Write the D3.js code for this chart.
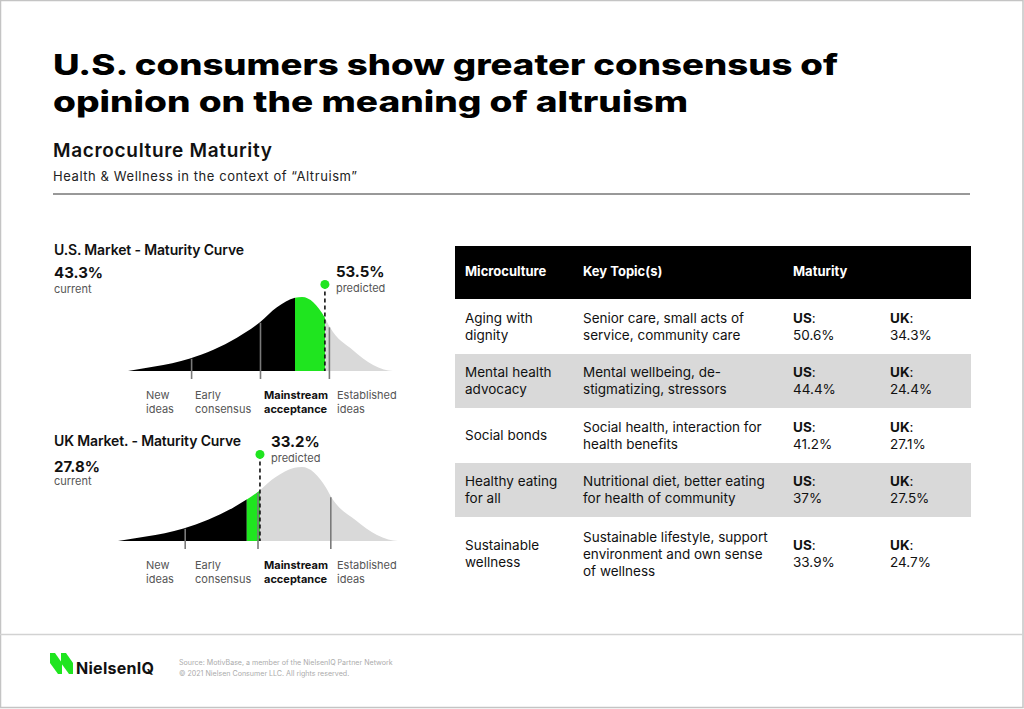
<!DOCTYPE html>
<html>
<head>
<meta charset="utf-8">
<script src="https://cdn.jsdelivr.net/npm/d3@7"></script>
<style>
  html, body { margin: 0; padding: 0; background: #fff; }
  svg { display: block; font-family: Inter, "Noto Sans", sans-serif; }
</style>
</head>
<body>
<svg id="chart" width="1024" height="709"></svg>
<script>
// ---- data ----
var titleLines = ['U.S. consumers show greater consensus of', 'opinion on the meaning of altruism'];
var subTitle = 'Macroculture Maturity';
var subText = 'Health & Wellness in the context of \u201cAltruism\u201d';

// maturity curve shape (position along maturity axis, relative height)
var curveX = [0, 0.10, 0.234, 0.411, 0.498, 0.562, 0.630, 0.657, 0.743, 0.762, 0.849, 0.925, 0.965, 1.0];
var curveH = [0, 0.06, 0.17, 0.45, 0.66, 0.86, 0.99, 1.0, 0.72, 0.59, 0.28, 0.08, 0.02, 0];

var stageBreaks = [0.24, 0.5, 0.76];
var stageNames = [['New', 'ideas'], ['Early', 'consensus'], ['Mainstream', 'acceptance'], ['Established', 'ideas']];

var marketTitles = ['U.S. Market - Maturity Curve', 'UK Market. - Maturity Curve'];
var currentPct = ['43.3%', '27.8%'];
var predictedPct = ['53.5%', '33.2%'];
var currentPos = [0.63, 0.46];
var predictedPos = [0.743, 0.507];

var tableHead = ['Microculture', 'Key Topic(s)', 'Maturity'];
var microcultures = [['Aging with', 'dignity'], ['Mental health', 'advocacy'], ['Social bonds'],
    ['Healthy eating', 'for all'], ['Sustainable', 'wellness']];
var keyTopics = [['Senior care, small acts of', 'service, community care'],
    ['Mental wellbeing, de-', 'stigmatizing, stressors'],
    ['Social health, interaction for', 'health benefits'],
    ['Nutritional diet, better eating', 'for health of community'],
    ['Sustainable lifestyle, support', 'environment and own sense', 'of wellness']];
var usMaturity = ['50.6%', '44.4%', '41.2%', '37%', '33.9%'];
var ukMaturity = ['34.3%', '24.4%', '27.1%', '27.5%', '24.7%'];

var footSource = ['Source: MotivBase, a member of the NielsenIQ Partner Network',
    '\u00a9 2021 Nielsen Consumer LLC. All rights reserved.'];

// ---- page ----
var svg = d3.select('#chart');
var GREEN = '#1fe51f';

// spread a text's letters so it covers the width it has in the picture
function fitWidth(t, w){
    var s = t.text();
    var cur = t.node().getComputedTextLength();
    t.attr('letter-spacing', (w - cur) / (s.length - 1));
    return t;
}

svg.append('rect').attr('x', 0.5).attr('y', 0.5).attr('width', 1022.5).attr('height', 707)
    .attr('fill', '#fff').attr('stroke', '#c4c4c4').attr('stroke-width', 1.5);

// title, wide face: stretch glyphs to the picture's widths
var titleW = [785, 635];
titleLines.forEach(function(t, i){
    svg.append('text')
        .attr('x', 53).attr('y', 75 + i * 37)
        .attr('font-size', 28.5).attr('font-weight', 800).attr('fill', '#000')
        .attr('textLength', titleW[i]).attr('lengthAdjust', 'spacingAndGlyphs')
        .text(t);
});

fitWidth(svg.append('text').attr('x', 53).attr('y', 157).attr('font-size', 19).attr('font-weight', 600)
    .attr('fill', '#111').text(subTitle), 219);
fitWidth(svg.append('text').attr('x', 53).attr('y', 181).attr('font-size', 13)
    .attr('fill', '#222').text(subText), 304);
svg.append('line').attr('x1', 53).attr('x2', 970).attr('y1', 194).attr('y2', 194)
    .attr('stroke', '#333').attr('stroke-width', 1);

// ---- maturity curves ----
var panels = [
    {x0: 128, x1: 393, base: 371, h: 74, titleY: 255, curY: 278, curLblY: 293, lblY: 399, titleW: 190},
    {x0: 118, x1: 398, base: 541, h: 74, titleY: 446, curY: 472, curLblY: 485, lblY: 569, titleW: 187}
];
var stageLabelX = [146, 195, 264, 337];
var curvePts = curveX.map(function(d, i){ return {x: d, h: curveH[i]}; });
var heightAt = d3.scaleLinear().domain(curveX).range(curveH);

panels.forEach(function(p, m){
    var x = d3.scaleLinear().domain([0, 1]).range([p.x0, p.x1]);
    var y = d3.scaleLinear().domain([0, 1]).range([p.base, p.base - p.h]);
    var g = svg.append('g');

    var area = d3.area().curve(d3.curveMonotoneX)
        .x(function(d){ return x(d.x); })
        .y0(p.base)
        .y1(function(d){ return y(d.h); });

    var segs = [
        {a: 0, b: currentPos[m], fill: '#000'},
        {a: currentPos[m], b: predictedPos[m], fill: GREEN},
        {a: predictedPos[m], b: 1, fill: '#d9d9d9'}
    ];
    segs.forEach(function(s, k){
        var id = 'clip' + m + '_' + k;
        svg.append('clipPath').attr('id', id).append('rect')
            .attr('x', x(s.a)).attr('y', p.base - p.h - 10)
            .attr('width', x(s.b) - x(s.a)).attr('height', p.h + 11);
        g.append('path').datum(curvePts)
            .attr('d', area).attr('fill', s.fill)
            .attr('clip-path', 'url(#' + id + ')');
    });

    // stage dividers
    g.selectAll('.div').data(stageBreaks).enter().append('line')
        .attr('x1', function(d){ return x(d); }).attr('x2', function(d){ return x(d); })
        .attr('y1', function(d){ return y(heightAt(d)) + 1; })
        .attr('y2', p.base + 8)
        .attr('stroke', '#7a7a7a').attr('stroke-width', 1.6);

    // predicted marker
    var px = x(predictedPos[m]);
    g.append('line').attr('x1', px).attr('x2', px)
        .attr('y1', y(1.17)).attr('y2', p.base)
        .attr('stroke', '#111').attr('stroke-width', 1.6).attr('stroke-dasharray', '4,3');
    g.append('circle').attr('cx', px).attr('cy', y(1.17)).attr('r', 4.5).attr('fill', GREEN);

    g.append('text').attr('x', px + 11).attr('y', y(1.17) - 7)
        .attr('font-size', 15).attr('font-weight', 700).attr('fill', '#111').text(predictedPct[m]);
    g.append('text').attr('x', px + 11).attr('y', y(1.17) + 8)
        .attr('font-size', 11).attr('fill', '#555').text('predicted');

    // title & current
    fitWidth(g.append('text').attr('x', 54).attr('y', p.titleY)
        .attr('font-size', 14).attr('font-weight', 600).attr('fill', '#111')
        .text(marketTitles[m]), p.titleW);
    g.append('text').attr('x', 54).attr('y', p.curY)
        .attr('font-size', 15).attr('font-weight', 700).attr('fill', '#111').text(currentPct[m]);
    g.append('text').attr('x', 54).attr('y', p.curLblY)
        .attr('font-size', 11).attr('fill', '#555').text('current');

    // stage labels
    stageNames.forEach(function(lines, k){
        var t = g.append('text').attr('x', stageLabelX[k]).attr('y', p.lblY)
            .attr('font-size', 11)
            .attr('font-weight', k == 2 ? 700 : 400)
            .attr('fill', k == 2 ? '#111' : '#555');
        lines.forEach(function(l, j){
            t.append('tspan').attr('x', stageLabelX[k]).attr('dy', j == 0 ? 0 : 13.5).text(l);
        });
    });
});

// ---- table ----
var colX = [465, 583, 793, 890];
var rowTops = [299, 354, 408, 463, 517, 591];
var tg = svg.append('g');
tg.append('rect').attr('x', 455).attr('y', 246).attr('width', 516).attr('height', 53).attr('fill', '#000');
tableHead.forEach(function(h, i){
    tg.append('text').attr('x', colX[i]).attr('y', 276)
        .attr('font-size', 13).attr('font-weight', 700).attr('fill', '#fff').text(h);
});

microcultures.forEach(function(mc, r){
    var top = rowTops[r], bot = rowTops[r + 1];
    if (r % 2 == 1){
        tg.append('rect').attr('x', 455).attr('y', top).attr('width', 516).attr('height', bot - top)
            .attr('fill', '#d9d9d9');
    }
    var cy = (top + bot) / 2;
    function cell(lines, xPos){
        var t = tg.append('text').attr('font-size', 13.5).attr('fill', '#111');
        lines.forEach(function(l, j){
            t.append('tspan').attr('x', xPos)
                .attr('y', cy + 4.5 - (lines.length - 1) * 8.5 + j * 17).text(l);
        });
        return t;
    }
    cell(mc, colX[0]);
    cell(keyTopics[r], colX[1]);
    [[ 'US', usMaturity[r]], ['UK', ukMaturity[r]]].forEach(function(v, k){
        var xPos = colX[2 + k];
        var t = tg.append('text').attr('font-size', 13.5).attr('fill', '#111');
        var t1 = t.append('tspan').attr('x', xPos).attr('y', cy + 4.5 - 8.5);
        t1.append('tspan').attr('font-weight', 700).text(v[0]);
        t1.append('tspan').text(':');
        t.append('tspan').attr('x', xPos).attr('y', cy + 4.5 + 8.5).text(v[1]);
    });
});

// ---- footer ----
svg.append('line').attr('x1', 0).attr('x2', 1024).attr('y1', 634.5).attr('y2', 634.5)
    .attr('stroke', '#d2d2d2').attr('stroke-width', 1.5);
var logo = svg.append('g').attr('fill', GREEN);
[0, 11].forEach(function(dx){
    logo.append('path').attr('d', d3.line()([
        [50 + dx, 653], [55 + dx, 653], [62 + dx, 663], [62 + dx, 674], [58 + dx, 674], [50 + dx, 663]
    ]) + 'Z');
});
fitWidth(svg.append('text').attr('x', 76).attr('y', 674).attr('font-size', 16).attr('font-weight', 700)
    .attr('fill', '#111').text('NielsenIQ'), 78);
footSource.forEach(function(s, i){
    svg.append('text').attr('x', 179).attr('y', 665 + i * 10.5).attr('font-size', 7.1)
        .attr('fill', '#ababab').text(s);
});
</script>
</body>
</html>
